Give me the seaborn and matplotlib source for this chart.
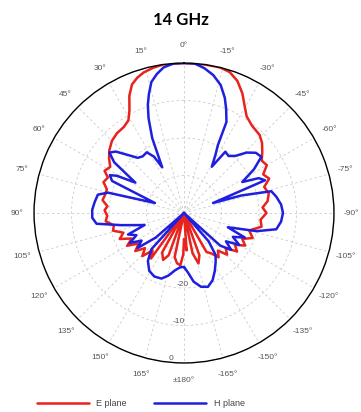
import numpy as np
import pandas as pd
import seaborn as sns
import matplotlib
matplotlib.use('Agg')
import matplotlib.pyplot as plt

sns.set_style('white')
plt.rcParams['font.family'] = ['Liberation Sans', 'DejaVu Sans']

# E plane (red) - angle in degrees, level in dB
e_angle = [-180, -176, -172, -168, -164, -160, -155, -150, -146, -142, -138, -134, -130,
           -126, -122, -118, -114, -110, -105, -100, -95, -90, -86, -82, -77, -72, -68,
           -64, -60, -56, -52, -48, -44, -38, -33, -30, -26, -22, -18, -14, -8, 0, 8, 12,
           16, 19, 22, 25, 28, 31, 35, 40, 45, 50, 54, 58, 62, 65, 69, 73, 77, 81, 85, 88,
           92, 96, 100, 104, 108, 112, 116, 120, 124, 128, 132, 136, 140, 144, 147, 151,
           156, 160, 164, 168, 172, 176, 179, 180]
e_db = [-33, -30, -40, -29, -26, -28, -40, -28, -27, -25, -26.5, -24, -25.5,
        -22.5, -24, -21.5, -23, -20.5, -22, -19, -19.5, -18, -19, -17.5, -16.8, -17.5, -15.5,
        -16.5, -14.5, -15, -13.5, -12, -11, -10.5, -9.3, -7.5, -4.5, -2, -0.5, 0, 0, 0, 0, -0.4,
        -1, -1.8, -3, -5.5, -9, -11.2, -12, -12.2, -12.8, -14, -15.3, -16.8, -16, -17.6, -17, -18.5, -18.4, -18, -19.5, -18.8,
        -19.5, -19, -21, -20.5, -23, -21.5, -24.5, -22.5, -25.5, -23.5, -26, -24, -27, -25, -40, -28,
        -26.3, -28, -40, -28, -26.5, -26, -29, -33]

# H plane (blue)
h_angle = [-180, -176, -172, -167, -162, -157, -152, -147, -143, -139, -136, -132, -128,
           -124, -120, -116, -112, -108, -104, -100, -95, -90, -85, -80, -76, -73, -71, -68,
           -65, -62, -58, -54, -50, -46, -42, -38, -34, -31, -28.5, -26.5, -25, -22, -19.5,
           -16, -12, -8, -4, 0, 4, 8, 11, 14, 16.5, 18.5, 20.5, 23, 25.5, 28, 31.5, 36, 40,
           44, 48, 51, 54, 58, 61, 63, 66, 71, 75, 78, 83, 88, 93, 97, 101, 107, 111, 115,
           119, 123, 127, 131, 134, 138, 143, 149, 155, 161, 166, 171, 176, 180]
h_db = [-25.6, -24, -21.5, -19.8, -19.3, -20.5, -22.5, -24.5, -26, -30, -40, -27, -24,
        -26.5, -23, -25.5, -22.5, -27.7, -20, -15, -14, -13.6, -14, -15, -16, -24, -31.8, -16.7,
        -18, -22.4, -18, -14.5, -15, -16.8, -19.5, -20.7, -20.3, -25.6, -22.5, -19.7, -13.2, -10, -7.4,
        -4.5, -2.4, -1, 0, 0, 0, -0.8, -2.2, -4, -7, -9.6, -13, -18.3, -26.5, -23, -21, -21.3, -20.8,
        -18.5, -15.5, -14.4, -17, -24.7, -19.5, -17.8, -19, -31.8, -19, -16.5, -16, -15.5, -15.5, -16.5, -23, -29, -24, -26,
        -23.5, -26.5, -24.5, -30, -40, -27, -24, -22, -21.3, -21.5, -22.8, -24.5, -25.5, -25.6]

r_ticks = [-30, -20, -10, 0]
r_labels = ['', '-20', '-10', '0']

theta_ticks = list(range(0, 360, 15))
theta_labels = []
for d in theta_ticks:
    if d == 180:
        theta_labels.append('\u00b1180\u00b0')
    elif d < 180:
        theta_labels.append(f'{d}\u00b0')
    else:
        theta_labels.append(f'{d - 360}\u00b0')

df_e = pd.DataFrame({'theta': np.deg2rad(e_angle), 'level': e_db})
df_h = pd.DataFrame({'theta': np.deg2rad(h_angle), 'level': h_db})

fig = plt.figure(figsize=(3.61, 4.12), dpi=100)
ax = fig.add_axes([0.0942, 0.119, 0.831, 0.728], projection='polar')
ax.set_theta_zero_location('N')
ax.set_theta_direction(1)

sns.lineplot(data=df_e, x='theta', y='level', ax=ax, color='#e8221c', lw=1.8,
             sort=False, estimator=None, label='E plane')
sns.lineplot(data=df_h, x='theta', y='level', ax=ax, color='#1f1fe0', lw=1.8,
             sort=False, estimator=None, label='H plane')

ax.set_ylim(-40, 0)
ax.set_yticks(r_ticks)
ax.set_yticklabels(r_labels, fontsize=6, color='#555555')
ax.set_rlabel_position(174)
ax.set_thetagrids(theta_ticks, theta_labels, fontsize=6, color='#555555')
ax.tick_params(axis='x', pad=2)
ax.grid(True, color='#cccccc', ls=(0, (3, 3)), lw=0.6)
ax.spines['polar'].set_color('black')
ax.spines['polar'].set_linewidth(1)
ax.set_xlabel('')
ax.set_ylabel('')

handles, labels = ax.get_legend_handles_labels()
ax.get_legend().remove()
fig.legend(handles, labels, loc='lower center', ncol=2, frameon=False,
           bbox_to_anchor=(0.39, -0.01), fontsize=6.5, handlelength=5.8,
           columnspacing=3, labelcolor='#444444')

fig.text(0.5, 0.951, '14 GHz', ha='center', va='center', fontsize=12,
         fontweight='bold', color='black', family=['Lato', 'DejaVu Sans'])

fig.savefig('out.png', dpi=100)
